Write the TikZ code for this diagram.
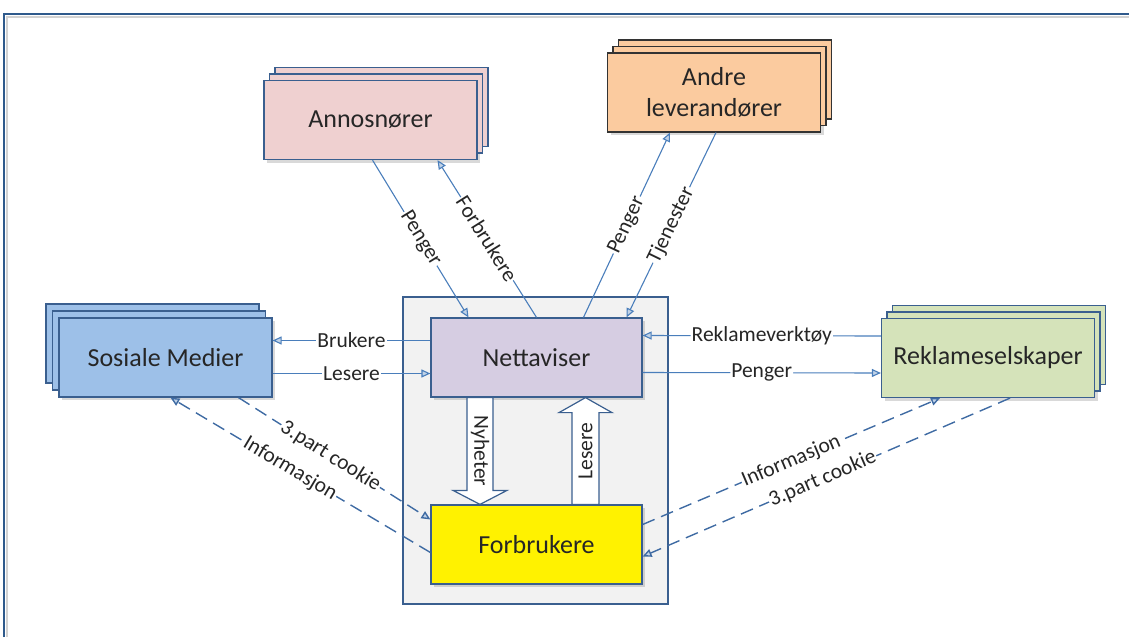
\documentclass[tikz,border=0pt]{standalone}
\usepackage{fontspec}
\setmainfont{Carlito}
\usepackage{xcolor}
\usepackage{tikz}
\usetikzlibrary{positioning, arrows.meta, calc, shadows, backgrounds}

\definecolor{edgeblue}{HTML}{4A7EBB}
\definecolor{dashblue}{HTML}{3F6BA3}
\definecolor{boxline}{HTML}{3A5F8F}
\definecolor{framecol}{HTML}{2F5A8C}
\definecolor{annosfill}{HTML}{EFD0D0}
\definecolor{andrefill}{HTML}{FBCB9F}
\definecolor{sosfill}{HTML}{9DC0E8}
\definecolor{reklfill}{HTML}{D5E3BA}
\definecolor{nettfill}{HTML}{D6CDE2}

\begin{document}
\begin{tikzpicture}[
  x=1pt, y=-1pt,
  font=\fontsize{21.5}{25}\selectfont,
  party/.style={draw=boxline, line width=1.2pt, align=center,
                minimum width=213pt, minimum height=79pt, inner sep=2pt,
                text=black!85, font=\fontsize{26}{31}\selectfont,
                drop shadow={shadow xshift=3pt, shadow yshift=-3pt, opacity=0.3}},
  stackR/.style={double copy shadow={shadow xshift=5.5pt, shadow yshift=6.5pt}},
  stackL/.style={double copy shadow={shadow xshift=-6.5pt, shadow yshift=7pt}},
  core/.style={draw=boxline, line width=1.2pt, fill=gray!10,
               minimum width=265pt, minimum height=307pt},
  flow/.style={draw=edgeblue, line width=1.1pt,
               -{Triangle[length=9pt, width=8pt, fill=edgeblue!35]}},
  cookie/.style={flow, draw=dashblue, line width=1.4pt, dash pattern=on 13pt off 7pt},
  tag/.style={fill=white, inner sep=1pt, sloped, text=black!85},
  bigarrow/.style={draw=boxline, line width=1.2pt, fill=white},
]
\useasboundingbox (0,0) rectangle (1129,637);

% frame of the sheet
\draw[gray!35, line width=2pt] (7,637) -- (7,17) -- (1129,17);
\draw[framecol, line width=1.6pt] (4,637) -- (4,14) -- (1129,14);

% centre area
\node[core] (hub) at (535.5,450.5) {};

% actors
\node[party, stackR, fill=annosfill] (annos) at (370.5,120) {Annosnører};
\node[party, stackR, fill=andrefill, draw=black!80] (andre) at (714,92.5) {Andre\\leverandører};
\node[party, stackL, fill=sosfill] (sosiale) at (165.5,357.5) {Sosiale Medier};
\node[party, stackR, fill=reklfill] (reklame) at (988,358) {Reklameselskaper};
\node[party, fill=nettfill, minimum width=211pt] (netta) at (536.5,357.5) {Nettaviser};
\node[party, fill=yellow, minimum width=211pt] (forb) at (536.5,544.5) {Forbrukere};

% flows up
\draw[flow] ([xshift=2pt]annos.south) -- node[tag]{Penger} ([xshift=-68pt]netta.north);
\draw[flow] (netta.north) -- node[tag]{Forbrukere} ([xshift=67pt]annos.south);
\draw[flow] ([xshift=47pt]netta.north) -- node[tag]{Penger} ([xshift=-44pt]andre.south);
\draw[flow] ([xshift=2pt]andre.south) -- node[tag]{Tjenester} ([xshift=90pt]netta.north);

% flows sideways
\draw[flow] ([yshift=17pt]netta.west) -- node[tag]{Brukere} ([yshift=17pt]sosiale.east);
\draw[flow] ([yshift=-16pt]sosiale.east) -- node[tag]{Lesere} ([yshift=-16pt]netta.west);
\draw[flow] ([yshift=22pt]reklame.west) -- node[tag]{Reklameverktøy} ([yshift=22pt]netta.east);
\draw[flow] ([yshift=-15pt]netta.east) -- node[tag]{Penger} ([yshift=-15pt]reklame.west);

% cookies
\draw[cookie] ([xshift=73pt]sosiale.south) -- node[tag, pos=0.48]{3.part cookie} ([yshift=25pt]forb.west);
\draw[cookie] ([yshift=-8pt]forb.west) -- node[tag, pos=0.54]{Informasjon} ([xshift=5pt]sosiale.south);
\draw[cookie] ([yshift=20pt]forb.east) -- node[tag]{Informasjon} ([xshift=-48pt]reklame.south);
\draw[cookie] ([xshift=22pt]reklame.south) -- node[tag, pos=0.51]{3.part cookie} ([yshift=-12pt]forb.east);

% block arrows between Nettaviser and Forbrukere
\draw[bigarrow] ($(netta.south)+(-69.5,0)$) -- ($(forb.north)+(-69.5,-14)$)
  -- ($(forb.north)+(-83.5,-14)$) -- ($(forb.north)+(-56.5,0)$)
  -- ($(forb.north)+(-29.5,-14)$) -- ($(forb.north)+(-43.5,-14)$)
  -- ($(netta.south)+(-43.5,0)$) -- cycle;
\node[rotate=-90, text=black!85] (nyhtxt) at ($(netta.south)!0.5!(forb.north)+(-56.5,0)$) {Nyheter};

\draw[bigarrow] ($(forb.north)+(35.5,0)$) -- ($(netta.south)+(35.5,15)$)
  -- ($(netta.south)+(22.5,15)$) -- ($(netta.south)+(49,0)$)
  -- ($(netta.south)+(75.5,15)$) -- ($(netta.south)+(62.5,15)$)
  -- ($(forb.north)+(62.5,0)$) -- cycle;
\node[rotate=90, text=black!85] (lestxt) at ($(netta.south)!0.5!(forb.north)+(49,0)$) {Lesere};
\end{tikzpicture}
\end{document}
